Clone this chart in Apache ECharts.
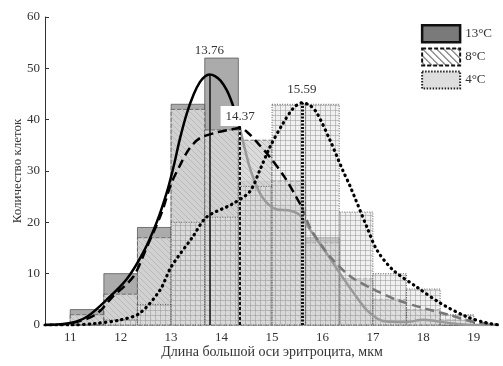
<!DOCTYPE html>
<html><head><meta charset="utf-8">
<script src="https://cdn.jsdelivr.net/npm/echarts@6/dist/echarts.min.js"></script>
<style>html,body{margin:0;padding:0;background:#fff}#c{width:503px;height:366px}</style>
</head><body><div id="c"></div>
<script>
// ---- data ----
const seriesNames = ['13°C', '8°C', '4°C'];
const binEdges = [11, 11.667, 12.333, 13, 13.667, 14.333, 15, 15.667, 16.333, 17, 17.667, 18.333, 19];
const counts13 = [3, 10, 19, 43, 52, 28, 23, 17, 4, 1, 1, 0];
const counts8  = [2, 6, 17, 42, 38, 36, 28, 16, 9, 5, 3, 1];
const counts4  = [0, 1, 4, 20, 21, 27, 43, 43, 22, 10, 7, 2];

const curve13X = [10.5, 11, 11.33, 11.72, 12.11, 12.44, 12.71, 12.91, 13.04, 13.18, 13.31, 13.45, 13.57, 13.67, 13.76, 13.87, 13.98, 14.1, 14.2, 14.29, 14.37, 14.45, 14.55, 14.67, 14.8, 14.95, 15.1, 15.35, 15.55, 15.8, 16.08, 16.35, 16.6, 16.88, 17.2, 17.67, 18.0, 18.5, 19.0, 19.5];
const curve13Y = [0, 0.4, 1.6, 4.9, 8.8, 14, 19.9, 25.7, 30.5, 36.5, 41.2, 45, 47.3, 48.4, 48.8, 48.5, 47.6, 45.8, 43.5, 40.8, 38.2, 34.8, 31, 27.6, 25, 23.3, 22.5, 22.3, 21.4, 17.9, 14, 10, 6.5, 2.9, 0.8, 0.6, 1, 0.4, 0, 0];
const curve8X = [10.5, 11, 11.5, 11.84, 12.25, 12.52, 12.81, 13.0, 13.17, 13.35, 13.57, 13.9, 14.15, 14.37, 14.55, 14.73, 14.95, 15.25, 15.59, 15.78, 16.18, 16.55, 17.0, 17.5, 18.0, 18.5, 19.0, 19.5];
const curve8Y = [0, 0.3, 2, 5.5, 9.4, 15.2, 21.8, 27.5, 31, 34.2, 36.4, 37.5, 38, 38.4, 37.2, 35.3, 32.8, 28.8, 23, 18.5, 13, 9.5, 7, 4.8, 3.3, 2, 0.6, 0];
const curve4X = [10.5, 11, 11.5, 12, 12.38, 12.78, 13.0, 13.43, 13.7, 14.2, 14.56, 14.76, 14.96, 15.22, 15.42, 15.59, 15.75, 15.89, 16.15, 16.4, 16.55, 16.88, 17.08, 17.4, 17.87, 18.33, 18.86, 19.26, 19.5];
const curve4Y = [0, 0, 0.3, 1, 2.3, 6.8, 11.3, 17.2, 21, 23.5, 26, 30.2, 34.7, 39.3, 42.2, 43.3, 42.8, 41.3, 36, 30.2, 27, 19.1, 14.6, 10.7, 7.4, 4.3, 1.6, 0.4, 0];
const peaks = [13.76, 14.37, 15.59];
const peakHeights = [48.8, 38.4, 43.3];
const xTicks = [11, 12, 13, 14, 15, 16, 17, 18, 19];

// ---- patterns ----
function makeHatch(bg, line, n) {
  const c = document.createElement('canvas'); c.width = n; c.height = n;
  const g = c.getContext('2d');
  g.fillStyle = bg; g.fillRect(0, 0, n, n);
  g.strokeStyle = line; g.lineWidth = 1;
  g.beginPath(); g.moveTo(-1, -1); g.lineTo(n + 1, n + 1);
  g.moveTo(-1, n - 1); g.lineTo(1, n + 1); g.moveTo(n - 1, -1); g.lineTo(n + 1, 1); g.stroke();
  return c;
}
function makeGrid(bg, line, n) {
  const c = document.createElement('canvas'); c.width = n; c.height = n;
  const g = c.getContext('2d');
  g.fillStyle = bg; g.fillRect(0, 0, n, n);
  g.fillStyle = line; g.fillRect(0, 0, n, 1); g.fillRect(0, 0, 1, n);
  return c;
}
const hatchChart = makeHatch('rgba(214,214,214,0.88)', 'rgba(165,165,165,0.55)', 6);
const hatchLegend = makeHatch('#ffffff', '#222222', 7);
const grid4 = makeGrid('rgba(228,228,228,0.55)', 'rgba(140,140,140,0.45)', 5);

function zip(xs, ys) { return xs.map((x, i) => [x, ys[i]]); }
function binData(counts) { return counts.map((v, i) => [binEdges[i], binEdges[i + 1], v]); }
function splitAt(pts, x, before) { return pts.filter(p => before ? p[0] <= x : p[0] >= x); }

function barRender(fill, stroke, dash, lw) {
  return function (params, api) {
    const p0 = api.coord([api.value(0), api.value(2)]);
    const p1 = api.coord([api.value(1), 0]);
    return {
      type: 'rect',
      shape: { x: p0[0], y: p0[1], width: p1[0] - p0[0], height: p1[1] - p0[1] },
      style: { fill: fill, stroke: stroke, lineWidth: lw, lineDash: dash }
    };
  };
}

const font = 'Liberation Serif';
const c13 = zip(curve13X, curve13Y), c8 = zip(curve8X, curve8Y), c4 = zip(curve4X, curve4Y);

function mark(i, lineType, width, bg, dist, z) {
  return {
    silent: true, animation: false, z: z, symbol: ['none', 'arrow'], symbolSize: [0, 9],
    lineStyle: { color: '#111', type: lineType, width: width },
    label: {
      show: true, position: 'end', formatter: peaks[i].toFixed(2), fontFamily: font, fontSize: 13, color: '#333',
      distance: dist,
      backgroundColor: bg || 'transparent', padding: bg ? [4, 5, 3, 5] : 0
    },
    data: [[{ coord: [peaks[i], 0] }, { coord: [peaks[i], peakHeights[i]] }]]
  };
}

const chart = echarts.init(document.getElementById('c'), null, { renderer: 'canvas' });
chart.setOption({
  animation: false,
  backgroundColor: '#fff',
  grid: { left: 45, right: 4, top: 17, bottom: 41, outerBoundsMode: 'none', containLabel: false },
  legend: {
    right: 6, top: 19, orient: 'vertical', itemWidth: 38, itemHeight: 17, itemGap: 4,
    textStyle: { fontFamily: font, fontSize: 13, color: '#333' },
    data: [
      { name: seriesNames[0], icon: 'rect', itemStyle: { color: '#7a7a7a', borderColor: '#111', borderWidth: 2.5, borderType: 'solid' } },
      { name: seriesNames[1], icon: 'rect', itemStyle: { color: { image: hatchLegend, repeat: 'repeat' }, borderColor: '#111', borderWidth: 2, borderType: [4, 2] } },
      { name: seriesNames[2], icon: 'rect', itemStyle: { color: '#dedede', borderColor: '#222', borderWidth: 2, borderType: [1.5, 1.5] } }
    ]
  },
  xAxis: {
    type: 'value', min: 10.5, max: 19.5,
    name: 'Длина большой оси эритроцита, мкм', nameLocation: 'middle', nameGap: 20, nameMoveOverlap: false,
    nameTextStyle: { fontFamily: font, fontSize: 14, color: '#333' },
    axisLine: { show: false },
    axisTick: { show: true, inside: true, length: 3, customValues: xTicks, lineStyle: { color: '#555' } },
    axisLabel: { customValues: xTicks, fontFamily: font, fontSize: 13, color: '#333', margin: 6 },
    splitLine: { show: false }
  },
  yAxis: {
    type: 'value', min: 0, max: 60, interval: 10,
    name: 'Количество клеток', nameLocation: 'middle', nameGap: 21, nameMoveOverlap: false,
    nameTextStyle: { fontFamily: font, fontSize: 13, color: '#333' },
    axisLine: { show: true, lineStyle: { color: '#333', width: 1 } },
    axisTick: { show: true, inside: true, length: 4, lineStyle: { color: '#333' } },
    axisLabel: { fontFamily: font, fontSize: 13, color: '#333', margin: 5 },
    splitLine: { show: false }
  },
  series: [
    { name: seriesNames[0], type: 'custom', renderItem: barRender('rgba(135,135,135,0.7)', 'rgba(90,90,90,0.8)', null, 1),
      itemStyle: { color: '#7a7a7a' }, encode: { x: [0, 1], y: 2 }, data: binData(counts13), z: 1 },
    { name: seriesNames[1], type: 'custom', renderItem: barRender({ image: hatchChart, repeat: 'repeat' }, 'rgba(90,90,90,0.8)', [4, 2], 1),
      itemStyle: { color: '#ccc' }, encode: { x: [0, 1], y: 2 }, data: binData(counts8), z: 2 },
    { name: seriesNames[2], type: 'custom', renderItem: barRender({ image: grid4, repeat: 'repeat' }, 'rgba(70,70,70,0.8)', [1, 1.5], 1),
      itemStyle: { color: '#ddd' }, encode: { x: [0, 1], y: 2 }, data: binData(counts4), z: 3 },
    { name: 'c13a', type: 'line', smooth: 0.3, symbol: 'none', z: 5, data: splitAt(c13, 14.37, true),
      lineStyle: { color: '#000', width: 2.5 }, markLine: mark(0, 'solid', 1.5, null, [0, 17], 5) },
    { name: 'c13b', type: 'line', smooth: 0.3, symbol: 'none', z: 4, data: splitAt(c13, 14.37, false),
      lineStyle: { color: '#999', width: 2.5 } },
    { name: 'c8a', type: 'line', smooth: 0.3, symbol: 'none', z: 7, data: splitAt(c8, 15.59, true),
      lineStyle: { color: '#000', width: 2.5, type: [9, 5] }, markLine: mark(1, [3, 2], 2, '#fff', 2, 10) },
    { name: 'c8b', type: 'line', smooth: 0.3, symbol: 'none', z: 4, data: splitAt(c8, 15.59, false),
      lineStyle: { color: '#777', width: 2.5, type: [9, 5] } },
    { name: 'c4', type: 'line', smooth: 0.3, symbol: 'none', z: 6, data: c4,
      lineStyle: { color: '#000', width: 3.2, type: [0.5, 5], cap: 'round' }, markLine: mark(2, [2, 1.5], 3, null, [0, 7], 6) }
  ]
});
</script>
</body></html>
